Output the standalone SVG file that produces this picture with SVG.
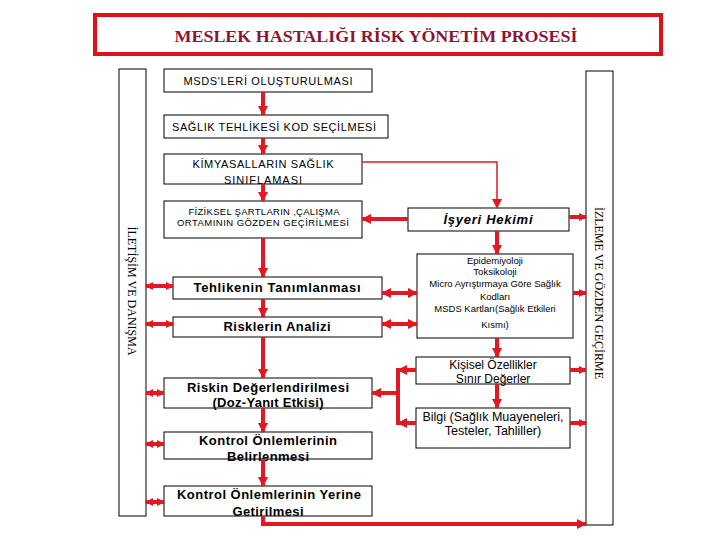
<svg xmlns="http://www.w3.org/2000/svg" width="720" height="540" viewBox="0 0 720 540">
<style>
.box{fill:#fff;stroke:#000;stroke-width:1}
.t{font-family:"Liberation Sans",Arial,sans-serif;fill:#000;text-anchor:middle}
.b{font-weight:bold;font-size:13px}
.v{font-family:"Liberation Serif","Times New Roman",serif;font-size:12px;fill:#000;text-anchor:middle}
.c{fill:none;stroke:#E01A22;stroke-width:4}
.thin{fill:none;stroke:#E01A22;stroke-width:1.5}
</style>
<defs>
<marker id="ah" markerUnits="userSpaceOnUse" markerWidth="10" markerHeight="10" refX="9" refY="5" orient="auto-start-reverse" viewBox="0 0 10 10">
<path d="M0,0 L10,5 L0,10 Z" fill="#E01A22"/>
</marker>
<marker id="ahs" markerUnits="userSpaceOnUse" markerWidth="8" markerHeight="8" refX="7" refY="4" orient="auto-start-reverse" viewBox="0 0 8 8">
<path d="M0,0 L8,4 L0,8 Z" fill="#E01A22"/>
</marker>
</defs>
<rect width="720" height="540" fill="#fff"/>

<g id="title">
<rect x="95" y="15" width="566" height="39" fill="#fff" stroke="#E0101A" stroke-width="4"/>
<text x="376" y="42" font-family="Liberation Serif,'Times New Roman',serif" font-weight="bold" font-size="17" fill="#8B1535" text-anchor="middle" textLength="403" lengthAdjust="spacingAndGlyphs">MESLEK HASTALIĞI RİSK YÖNETİM PROSESİ</text>
</g>

<g id="iletisim">
<rect class="box" x="119" y="69" width="27" height="447"/>
<text class="v" transform="translate(128,291) rotate(90)">İLETİŞİM VE DANIŞMA</text>
</g>
<g id="izleme">
<rect class="box" x="586" y="71" width="27" height="454"/>
<text class="v" transform="translate(595,293) rotate(90)">İZLEME VE GÖZDEN GEÇİRME</text>
</g>

<g id="msds">
<rect class="box" x="164" y="69" width="208" height="23"/>
<text class="t" x="268" y="85" font-size="11" textLength="169" lengthAdjust="spacing">MSDS'LERİ OLUŞTURULMASI</text>
</g>
<g id="kod">
<rect class="box" x="164" y="115" width="224" height="23"/>
<text class="t" x="274" y="131" font-size="11" textLength="204" lengthAdjust="spacing">SAĞLIK TEHLİKESİ KOD SEÇİLMESİ</text>
</g>
<g id="kimyasal">
<rect class="box" x="164" y="154" width="198" height="30"/>
<text class="t" x="263" y="168" font-size="11" textLength="141" lengthAdjust="spacing">KİMYASALLARIN SAĞLIK</text>
<text class="t" x="263" y="184" font-size="11" textLength="78" lengthAdjust="spacing">SINIFLAMASI</text>
</g>
<g id="fiziksel">
<rect class="box" x="164" y="201" width="198" height="37"/>
<text class="t" x="264" y="215" font-size="9.5" textLength="151" lengthAdjust="spacing">FİZİKSEL ŞARTLARIN ,ÇALIŞMA</text>
<text class="t" x="263" y="226" font-size="9.5" textLength="172" lengthAdjust="spacing">ORTAMININ GÖZDEN GEÇİRİLMESİ</text>
</g>
<g id="tehlike">
<rect class="box" x="173" y="277" width="209" height="22"/>
<text class="t b" x="277" y="292" textLength="167" lengthAdjust="spacing">Tehlikenin Tanımlanması</text>
</g>
<g id="analiz">
<rect class="box" x="173" y="317" width="209" height="20"/>
<text class="t b" x="277" y="331" textLength="107" lengthAdjust="spacing">Risklerin Analizi</text>
</g>
<g id="degerlendirme">
<rect class="box" x="164" y="378" width="208" height="30"/>
<text class="t b" x="268" y="392" textLength="162" lengthAdjust="spacing">Riskin Değerlendirilmesi</text>
<text class="t b" x="268" y="407" textLength="111" lengthAdjust="spacing">(Doz-Yanıt Etkisi)</text>
</g>
<g id="belirleme">
<rect class="box" x="164" y="432" width="208" height="27"/>
<text class="t b" x="268" y="445" textLength="138" lengthAdjust="spacing">Kontrol Önlemlerinin</text>
<text class="t b" x="268" y="461" textLength="82" lengthAdjust="spacing">Belirlenmesi</text>
</g>
<g id="uygulama">
<rect class="box" x="164" y="486" width="208" height="30"/>
<text class="t b" x="269" y="499" textLength="184" lengthAdjust="spacing">Kontrol Önlemlerinin Yerine</text>
<text class="t b" x="268" y="516" textLength="71" lengthAdjust="spacing">Getirilmesi</text>
</g>

<g id="hekim">
<rect class="box" x="408" y="208" width="161" height="23"/>
<text class="t b" x="488" y="224" font-style="italic" textLength="89" lengthAdjust="spacing">İşyeri Hekimi</text>
</g>
<g id="epidemiyoloji">
<rect class="box" x="417" y="254" width="156" height="84"/>
<text class="t" x="495" y="264" font-size="9.5">Epidemiyoloji</text>
<text class="t" x="495" y="275" font-size="9.5">Toksikoloji</text>
<text class="t" x="495" y="287" font-size="9.5">Micro Ayrıştırmaya Göre Sağlık</text>
<text class="t" x="495" y="300" font-size="9.5">Kodları</text>
<text class="t" x="495" y="312" font-size="9.5">MSDS Kartları(Sağlık Etkileri</text>
<text class="t" x="495" y="328" font-size="9.5">Kısmı)</text>
</g>
<g id="kisisel">
<rect class="box" x="416" y="357" width="154" height="27"/>
<text class="t" x="493" y="369" font-size="12">Kişisel Özellikler</text>
<text class="t" x="493" y="383" font-size="12">Sınır Değerler</text>
</g>
<g id="bilgi">
<rect class="box" x="416" y="408" width="154" height="40"/>
<text class="t" x="493" y="421" font-size="12.5">Bilgi (Sağlık Muayeneleri,</text>
<text class="t" x="493" y="435" font-size="12.5">Testeler, Tahliller)</text>
</g>

<g id="connectors">
<line class="c" x1="263" y1="92" x2="263" y2="115" marker-end="url(#ah)"/>
<line class="c" x1="263" y1="138" x2="263" y2="154" marker-end="url(#ah)"/>
<line class="c" x1="263" y1="184" x2="263" y2="201" marker-end="url(#ah)"/>
<line class="c" x1="263" y1="238" x2="263" y2="277" marker-end="url(#ah)"/>
<line class="c" x1="263" y1="299" x2="263" y2="317" marker-end="url(#ah)"/>
<line class="c" x1="263" y1="337" x2="263" y2="378" marker-end="url(#ah)"/>
<line class="c" x1="263" y1="408" x2="263" y2="432" marker-end="url(#ah)"/>
<line class="c" x1="263" y1="459" x2="263" y2="486" marker-end="url(#ah)"/>
<path class="c" d="M263,516 V524 H586" marker-end="url(#ah)"/>

<path class="thin" d="M362,162 H497 V208" marker-end="url(#ah)"/>
<line class="c" x1="408" y1="219" x2="362" y2="219" marker-end="url(#ah)"/>
<line class="c" x1="497" y1="231" x2="497" y2="254" marker-end="url(#ah)"/>
<line class="c" x1="497" y1="338" x2="497" y2="357" marker-end="url(#ah)"/>
<line class="c" x1="497" y1="384" x2="497" y2="408" marker-end="url(#ah)"/>

<line class="c" x1="382" y1="293" x2="417" y2="293" marker-start="url(#ah)" marker-end="url(#ah)"/>
<line class="c" x1="382" y1="324" x2="417" y2="324" marker-start="url(#ah)" marker-end="url(#ah)"/>

<line class="c" x1="398" y1="368" x2="398" y2="425"/>
<line class="c" x1="416" y1="370" x2="398" y2="370" marker-end="url(#ah)"/>
<line class="c" x1="416" y1="423" x2="398" y2="423" marker-end="url(#ah)"/>
<line class="c" x1="398" y1="393" x2="372" y2="393" marker-end="url(#ah)"/>

<line class="c" x1="569" y1="217" x2="586" y2="217" stroke-width="3" marker-end="url(#ahs)"/>
<line class="c" x1="573" y1="293" x2="586" y2="293" stroke-width="3" marker-end="url(#ahs)"/>
<line class="c" x1="570" y1="370" x2="586" y2="370" stroke-width="3" marker-end="url(#ahs)"/>
<line class="c" x1="570" y1="423" x2="586" y2="423" stroke-width="3" marker-end="url(#ahs)"/>

<line class="c" x1="146" y1="286" x2="173" y2="286" marker-start="url(#ahs)" marker-end="url(#ahs)"/>
<line class="c" x1="146" y1="324" x2="173" y2="324" marker-start="url(#ahs)" marker-end="url(#ahs)"/>
<line class="c" x1="146" y1="393" x2="164" y2="393" marker-start="url(#ahs)" marker-end="url(#ahs)"/>
<line class="c" x1="146" y1="444" x2="164" y2="444" marker-start="url(#ahs)" marker-end="url(#ahs)"/>
<line class="c" x1="146" y1="502" x2="164" y2="502" marker-start="url(#ahs)" marker-end="url(#ahs)"/>
</g>
</svg>
